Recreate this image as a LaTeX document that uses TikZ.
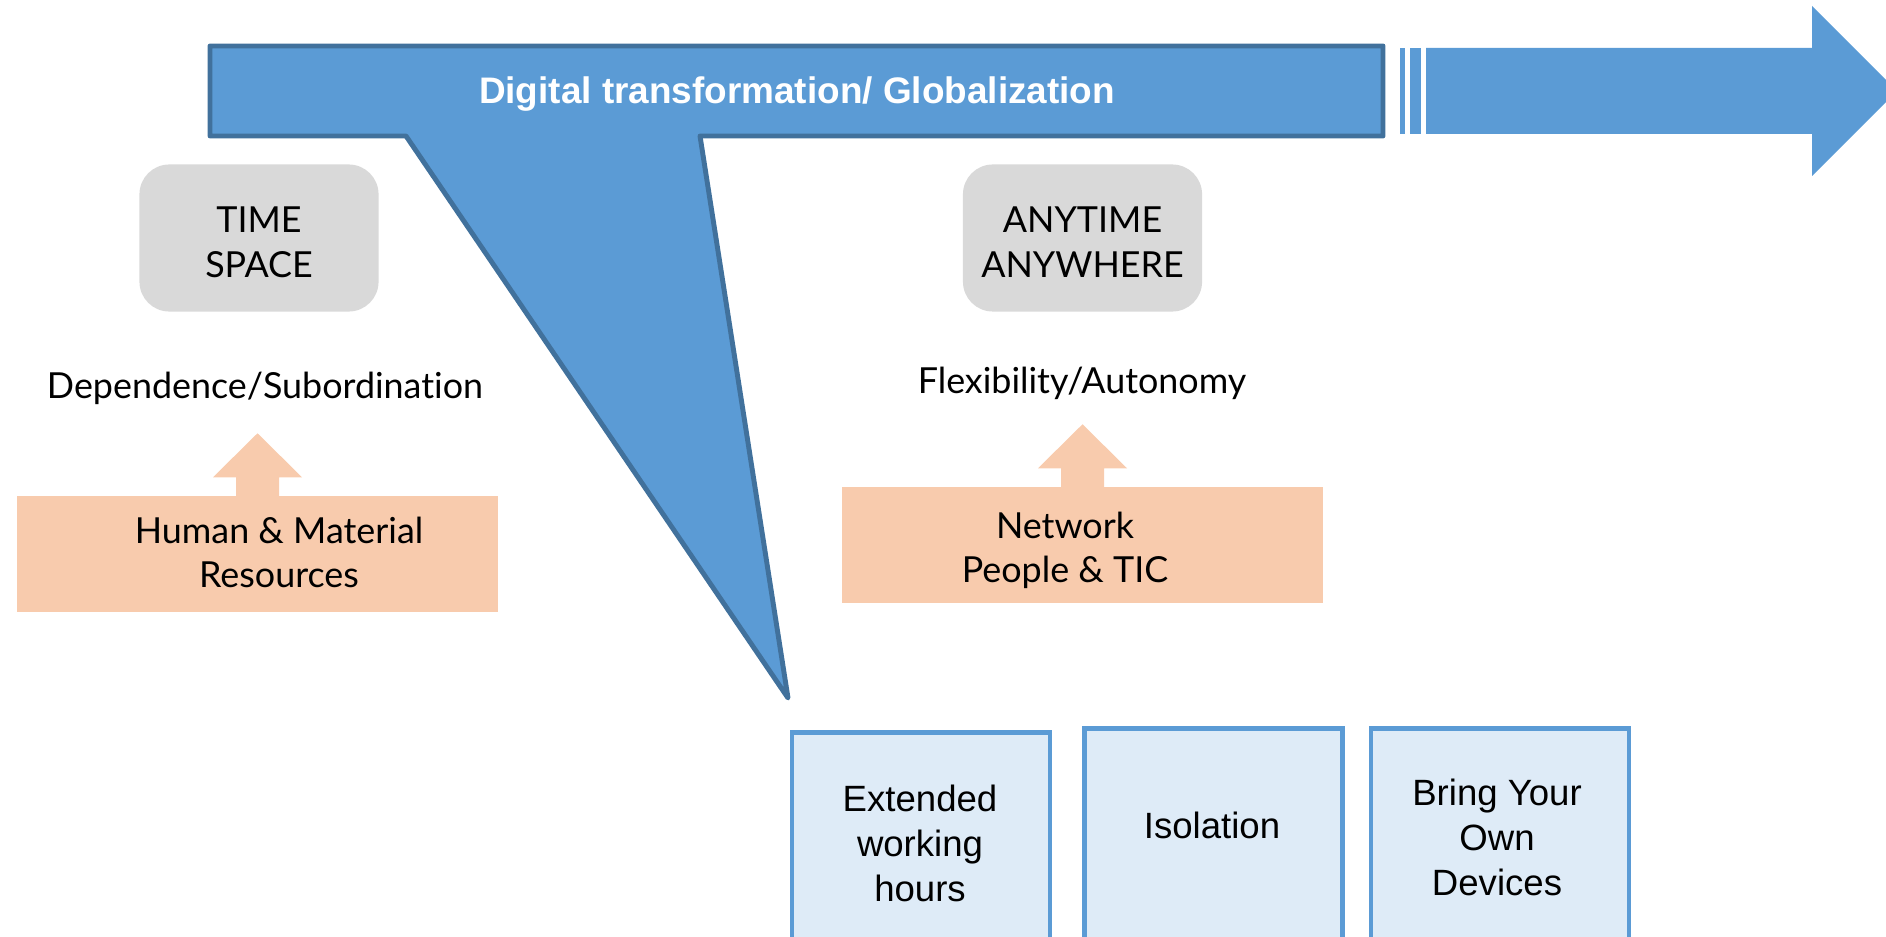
\documentclass[tikz,border=0pt]{standalone}
\usepackage{fontspec}
\setmainfont{Lato}[Ligatures=NoCommon]
\newfontfamily\arialfont{Liberation Sans}
\usetikzlibrary{positioning}

\definecolor{bannerblue}{HTML}{5B9BD5}
\definecolor{bannerline}{HTML}{41719C}
\definecolor{boxgray}{HTML}{D9D9D9}
\definecolor{peach}{HTML}{F8CBAD}
\definecolor{paleblue}{HTML}{DEEBF7}

\tikzset{
  callout/.style={fill=bannerblue, draw=bannerline, line width=1.4pt, line join=round},
  bannertext/.style={text=white, font=\arialfont\bfseries\fontsize{10.5}{12.6}\selectfont},
  graybox/.style={fill=boxgray, rounded corners=8.5pt, minimum width=2.39cm, minimum height=1.47cm},
  graytext/.style={align=center, font=\fontsize{10.2}{12.8}\selectfont},
  plaintext/.style={font=\fontsize{10.2}{12.8}\selectfont},
  resbox/.style={fill=peach, minimum width=4.81cm, minimum height=1.16cm},
  restext/.style={align=center, font=\fontsize{10.2}{12.4}\selectfont},
  issuebox/.style={fill=paleblue, draw=bannerblue, line width=1.3pt, anchor=north,
    minimum width=2.58cm, minimum height=2.6cm},
  issuetext/.style={align=center, font=\arialfont\fontsize{10.4}{12.8}\selectfont}
}

\begin{document}
\begin{tikzpicture}[x=0.01cm, y=-0.01cm]
\useasboundingbox (0,0) rectangle (1886,937);

%% timeline arrow, broken behind the banner
\fill[bannerblue] (1400,48) rectangle (1405,134);
\fill[bannerblue] (1410,48) rectangle (1421,134);
\fill[bannerblue] (1426,48) -- (1812,48) -- (1812,6) -- (1897,91) -- (1812,176) -- (1812,134) -- (1426,134) -- cycle;

%% banner with its wedge
\draw[callout] (210,46) -- (1383,46) -- (1383,136) -- (700,136) -- (788,698) -- (406,136) -- (210,136) -- cycle;
\node[bannertext] (title) at (797,94) {Digital transformation/ Globalization};

%% before
\node[graybox] (timespace) at (259,238) {};
\node[graytext] (timespacetxt) at (259,242.5) {TIME\\SPACE};
\node[plaintext] (depend) at (265,388.5) {Dependence/Subordination};
\node[resbox] (resA) at (257.5,554) {};
\fill[peach, shift={(resA.north)}] (-21.5,1) -- (-21.5,-18) -- (-44.5,-18) -- (0,-62) -- (44.5,-18) -- (21.5,-18) -- (21.5,1) -- cycle;
\node[restext] (resAtxt) at (279,552.5) {Human \& Material\\Resources};

%% after
\node[graybox] (anytime) at (1082.5,238) {};
\node[graytext] (anytimetxt) at (1082.5,242.5) {ANYTIME\\ANYWHERE};
\node[plaintext] (flex) at (1082,383.5) {Flexibility/Autonomy};
\node[resbox] (resB) at (1082.5,545) {};
\fill[peach, shift={(resB.north)}] (-21.5,1) -- (-21.5,-18) -- (-44.5,-18) -- (0,-62) -- (44.5,-18) -- (21.5,-18) -- (21.5,1) -- cycle;
\node[restext] (resBtxt) at (1065,550.5) {Network\\People \& TIC};

%% side effects
\node[issuebox] (hours) at (921,730) {};
\node[issuebox] (iso) at (1213.5,726) {};
\node[issuebox] (byod) at (1500,726) {};
\node[issuetext] (hourstxt) at (920,843) {Extended\\working\\hours};
\node[issuetext] (isotxt) at (1212,825) {Isolation};
\node[issuetext] (byodtxt) at (1497,837) {Bring Your\\Own\\Devices};
\end{tikzpicture}
\end{document}
